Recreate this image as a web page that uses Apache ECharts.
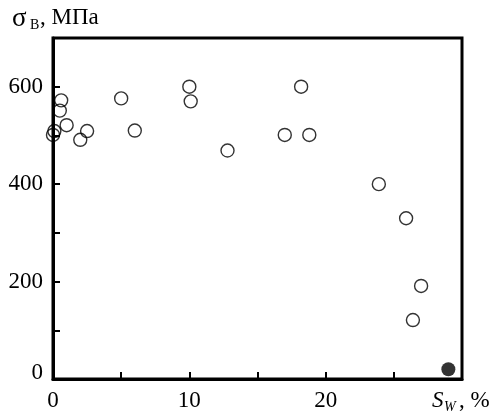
<!DOCTYPE html>
<html>
<head>
<meta charset="utf-8">
<script src="https://cdn.jsdelivr.net/npm/echarts@6/dist/echarts.min.js"></script>
<style>html,body{margin:0;padding:0;background:#fff}#c{width:492px;height:418px}</style>
</head>
<body>
<div id="c"></div>
<script>
// S_w, %  and  sigma_B, MPa
const openX = [0, 0.1, 0.5, 0.6, 1.0, 2.0, 2.5, 5.0, 6.0, 10.0, 10.1, 12.8, 17.0, 18.2, 18.8, 23.9, 25.9, 26.4, 27.0];
const openY = [501, 509, 551, 572, 521, 491, 509, 576, 510, 600, 570, 469, 501, 600, 501, 400, 330, 121, 191];
const filledX = [29.0];
const filledY = [20];
const xTickLabels = [0, 10, 20];
const yTickLabels = [0, 200, 400, 600];

const FONT = '"Liberation Serif", "Times New Roman", serif';
const chart = echarts.init(document.getElementById('c'), null, {renderer: 'canvas'});
chart.setOption({
  animation: false,
  backgroundColor: '#fff',
  grid: {left: 53, right: 30, top: 38, bottom: 39, show: true, borderColor: '#000', borderWidth: 3, backgroundColor: 'transparent'},
  xAxis: {
    type: 'value', min: 0, max: 30, interval: 5,
    axisLine: {lineStyle: {color: '#000', width: 3}},
    axisTick: {inside: true, length: 7, lineStyle: {color: '#000', width: 2}},
    splitLine: {show: false},
    axisLabel: {
      color: '#000', fontFamily: FONT, fontSize: 23, margin: 10,
      formatter: v => xTickLabels.indexOf(v) >= 0 ? String(v) : ''
    }
  },
  yAxis: {
    type: 'value', min: 0, max: 700, interval: 100,
    axisLine: {lineStyle: {color: '#000', width: 3}},
    axisTick: {inside: true, length: 7, lineStyle: {color: '#000', width: 2}},
    splitLine: {show: false},
    axisLabel: {
      color: '#000', fontFamily: FONT, fontSize: 23, margin: 10,
      formatter: v => v === 0 ? '{z|0}' : (yTickLabels.indexOf(v) >= 0 ? String(v) : ''),
      rich: {z: {fontFamily: FONT, fontSize: 23, color: '#000', padding: [0, 0, 12, 0]}}
    }
  },
  series: [
    {
      type: 'scatter', clip: false, symbol: 'circle', symbolSize: 13,
      itemStyle: {color: 'rgba(0,0,0,0)', borderColor: '#000', borderWidth: 1.4},
      data: openX.map((x, i) => [x, openY[i]])
    },
    {
      type: 'scatter', clip: false, symbol: 'circle', symbolSize: 14,
      itemStyle: {color: '#000'},
      data: filledX.map((x, i) => [x, filledY[i]])
    }
  ],
  graphic: [
    {type: 'text', left: 12, top: 5, style: {text: 'σ', font: '27px ' + FONT, fill: '#000'}},
    {type: 'text', left: 30, top: 18, style: {text: 'В', font: '14px ' + FONT, fill: '#000'}},
    {type: 'text', left: 40, top: 6, style: {text: ', МПа', font: '23px ' + FONT, fill: '#000'}},
    {type: 'text', left: 432, top: 389, style: {text: 'S', font: 'italic 23px ' + FONT, fill: '#000'}},
    {type: 'text', left: 444, top: 400, style: {text: 'W', font: 'italic 14px ' + FONT, fill: '#000'}},
    {type: 'text', left: 459, top: 389, style: {text: ', %', font: '23px ' + FONT, fill: '#000'}}
  ]
});
</script>
</body>
</html>
